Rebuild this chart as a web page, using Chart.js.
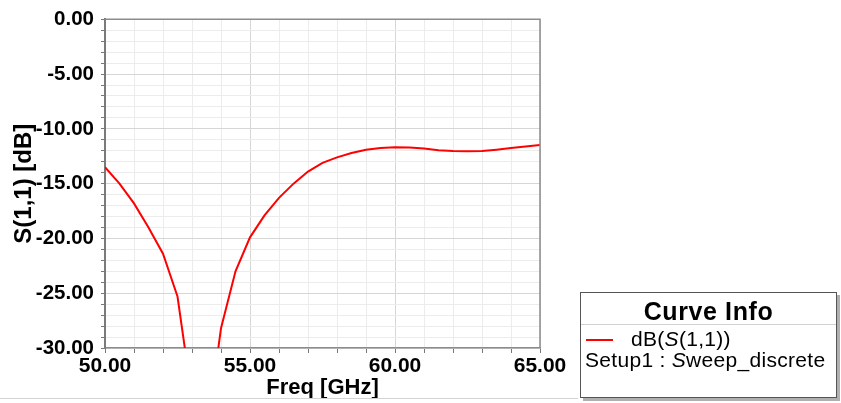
<!DOCTYPE html>
<html>
<head>
<meta charset="utf-8">
<script src="https://cdn.jsdelivr.net/npm/chart.js@4/dist/chart.umd.min.js"></script>
<style>
  html, body { margin: 0; padding: 0; background: #fff; }
  #wrap { position: relative; width: 841px; height: 403px; overflow: hidden; font-family: "Liberation Sans", Arial, sans-serif; }
  #plot { position: absolute; left: 0; top: 0; }
  #baseline { position: absolute; left: 0; top: 398px; width: 578px; height: 1px; background: #d4d4d4; }
  #info {
    position: absolute; left: 580px; top: 292px; width: 255px; height: 104px;
    border: 1px solid #555; background: #fff; box-shadow: 3px 3px 0 #b0b0b0;
  }
  #info .title { height: 31px; line-height: 36px; text-align: center; font-weight: bold; font-size: 25px; letter-spacing: 0.6px; border-bottom: 1px solid #d0d0d0; }
  #info .row { position: absolute; white-space: nowrap; font-size: 21px; color: #000; letter-spacing: 0.3px; }
  #info .swatch { position: absolute; left: 5px; top: 46px; width: 27px; height: 2px; background: #ff0000; }
</style>
</head>
<body>
<div id="wrap">
  <canvas id="plot" width="841" height="403"></canvas>
  <div id="baseline"></div>
  <div id="info">
    <div class="title">Curve Info</div>
    <div class="swatch"></div>
    <div class="row" style="left:50px; top:34px;">dB(<i>S</i>(1,1))</div>
    <div class="row" style="left:4px; top:55px;">Setup1 : <i>S</i>weep_discrete</div>
  </div>
</div>
<script>
// Discrete sweep points: frequency (GHz) and return loss dB(S(1,1))
const freqGHz = [50.0, 50.5, 51.0, 51.5, 52.0, 52.5, 53.0, 53.5, 54.0, 54.5, 55.0, 55.5,
                 56.0, 56.5, 57.0, 57.5, 58.0, 58.5, 59.0, 59.5, 60.0, 60.5, 61.0, 61.5,
                 62.0, 62.5, 63.0, 63.5, 64.0, 64.5, 65.0];
const s11dB = [-13.5, -15.0, -16.8, -19.0, -21.4, -25.3, -34.6, -38.0, -28.2, -23.0, -19.9, -17.9,
               -16.3, -15.0, -13.9, -13.1, -12.6, -12.2, -11.9, -11.75, -11.67, -11.7, -11.8, -11.95,
               -12.03, -12.05, -12.03, -11.9, -11.75, -11.6, -11.48];
const xTickValues = [50, 55, 60, 65];
const yTickValues = [0, -5, -10, -15, -20, -25, -30];
const seriesName = 'dB(S(1,1))';
const xTitle = 'Freq [GHz]';
const yTitle = 'S(1,1) [dB]';

const points = freqGHz.map((f, i) => ({ x: f, y: s11dB[i] }));

const isMajor = (v, step) => Math.abs(v / step - Math.round(v / step)) < 1e-6;
const FONT = '"Liberation Sans", Arial, sans-serif';

// Gray frame along the top and right of the plotting area
const frame = {
  id: 'frame',
  afterDatasetsDraw(chart) {
    const { ctx, chartArea: a } = chart;
    ctx.save();
    ctx.strokeStyle = '#8c8c8c';
    ctx.lineWidth = 1.5;
    ctx.beginPath();
    ctx.moveTo(a.left, a.top);
    ctx.lineTo(a.right, a.top);
    ctx.lineTo(a.right, a.bottom);
    ctx.stroke();
    ctx.restore();
  }
};

new Chart(document.getElementById('plot'), {
  type: 'line',
  data: {
    datasets: [{
      label: seriesName,
      data: points,
      borderColor: '#ff0000',
      borderWidth: 2,
      pointRadius: 0,
      tension: 0,
      clip: 0
    }]
  },
  options: {
    responsive: false,
    animation: false,
    layout: { padding: { top: 13, right: 301, left: 0, bottom: 0 } },
    plugins: { legend: { display: false }, tooltip: { enabled: false } },
    scales: {
      x: {
        type: 'linear',
        min: 50, max: 65,
        afterFit(s) { s.height = 55; },
        afterBuildTicks(s) {
          const t = [];
          for (let v = 50; v <= 65; v += 1) t.push({ value: v });
          s.ticks = t;
        },
        ticks: {
          autoSkip: false, maxRotation: 0, padding: 1,
          color: '#000',
          font: { family: FONT, size: 21, weight: 'bold' },
          callback: (v) => xTickValues.includes(v) ? v.toFixed(2) : ''
        },
        grid: {
          color: (c) => isMajor(c.tick.value, 5) ? '#d6d6d6' : '#ececec',
          tickColor: '#777',
          tickLength: 5,
          lineWidth: 1
        },
        border: { color: '#8c8c8c', width: 1.5 },
        title: {
          display: true, text: xTitle, color: '#000',
          font: { family: FONT, size: 22, weight: 'bold' },
          padding: { top: 0, bottom: 2 }
        }
      },
      y: {
        min: -30, max: 0,
        afterFit(s) { s.width = 105; },
        afterBuildTicks(s) {
          const t = [];
          for (let v = -30; v <= 0; v += 1) t.push({ value: v });
          s.ticks = t;
        },
        ticks: {
          autoSkip: false, padding: 7,
          color: '#000',
          font: { family: FONT, size: 20.5, weight: 'bold' },
          callback: (v) => yTickValues.includes(v) ? v.toFixed(2) : ''
        },
        grid: {
          color: (c) => isMajor(c.tick.value, 5) ? '#d6d6d6' : '#ececec',
          tickColor: '#777',
          tickLength: 4,
          lineWidth: 1
        },
        border: { color: '#7a7a7a', width: 2 },
        title: {
          display: true, text: yTitle, color: '#000',
          font: { family: FONT, size: 24, weight: 'bold' },
          padding: { top: 10, bottom: 0 }
        }
      }
    }
  },
  plugins: [frame]
});
</script>
</body>
</html>
